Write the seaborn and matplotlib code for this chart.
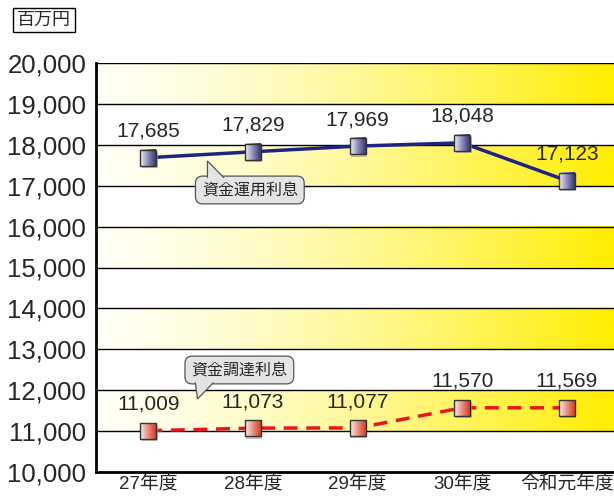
import numpy as np
import pandas as pd
import matplotlib
matplotlib.use("Agg")
import matplotlib.pyplot as plt
from matplotlib.patches import Polygon, Rectangle
import seaborn as sns

# データ
years = ["27年度", "28年度", "29年度", "30年度", "令和元年度"]
unyo = [17685, 17829, 17969, 18048, 17123]     # 資金運用利息
chotatsu = [11009, 11073, 11077, 11570, 11569]  # 資金調達利息
y_ticks = list(range(10000, 20001, 1000))

sns.set_style("white")
plt.rcParams['font.family'] = ['Liberation Sans', 'Noto Sans CJK JP', 'DejaVu Sans']

df = pd.DataFrame({"x": range(len(years)), "unyo": unyo, "chotatsu": chotatsu})

fig = plt.figure(figsize=(6.14, 4.97), dpi=100)
ax = fig.add_axes([96 / 614, 25 / 497, 1 - 96 / 614, 409 / 497])

xmin, xmax = -0.5, 4.45
ax.set_xlim(xmin, xmax)
ax.set_ylim(10000, 20000)

# 背景の黄色グラデーション帯
t = np.linspace(0, 1, 256) ** 1.4
grad = np.zeros((1, 256, 3))
grad[0, :, 0] = 1.0
grad[0, :, 1] = 1.0 - t * (1.0 - 0.93)
grad[0, :, 2] = 0.96 * (1 - t)
for lo in range(11000, 20000, 2000):
    ax.imshow(grad, extent=[xmin, xmax, lo, lo + 1000], aspect="auto", zorder=0)

for yv in y_ticks[1:]:
    ax.axhline(yv, color="black", lw=1.0, zorder=1)

sns.lineplot(data=df, x="x", y="unyo", ax=ax, color="#1E2385", lw=2.5, zorder=3)
sns.lineplot(data=df, x="x", y="chotatsu", ax=ax, color="#E8141E", lw=2.5,
             linestyle=(0, (4, 2.5)), zorder=3)

# グラデーション付き四角マーカー
def grad_marker(x, y, c_right):
    hx = 8 / 104.7
    hy = 8 / 40.9 * 1000
    s = np.linspace(0, 1, 64) ** 0.9
    c0 = np.array([0.97, 0.97, 0.97])
    c1 = np.array(matplotlib.colors.to_rgb(c_right))
    img = (c0[None, :] * (1 - s[:, None]) + c1[None, :] * s[:, None])[None, :, :]
    ax.add_patch(Rectangle((x - hx + 0.012, y - hy - 60), 2 * hx, 2 * hy, fc="#999999",
                           ec="none", alpha=0.6, zorder=3.5))
    ax.imshow(img, extent=[x - hx, x + hx, y - hy, y + hy], aspect="auto", zorder=4)
    ax.add_patch(Rectangle((x - hx, y - hy), 2 * hx, 2 * hy, fc="none", ec="#333333",
                           lw=1, zorder=4.1))

for i in range(len(years)):
    grad_marker(i, unyo[i], "#34347E")
    grad_marker(i, chotatsu[i], "#DC3A1E")
    ax.annotate(f"{unyo[i]:,}", (i, unyo[i]), xytext=(0, 19), textcoords="offset points",
                ha="center", va="center", fontsize=15, zorder=5)
    ax.annotate(f"{chotatsu[i]:,}", (i, chotatsu[i]), xytext=(0, 19), textcoords="offset points",
                ha="center", va="center", fontsize=15, zorder=5)

# 吹き出し
def callout(text, bx, by, tip, base_l, base_r):
    ax.text(bx, by, text, ha="center", va="center", fontsize=11.5, zorder=6,
            bbox=dict(boxstyle="round,pad=0.4,rounding_size=0.45", fc="#E4E4E4",
                      ec="#555555", lw=0.9))
    ax.add_patch(Polygon([tip, base_l, base_r], closed=True, fc="#E4E4E4", ec="none", zorder=6.5))
    ax.plot([base_l[0], tip[0], base_r[0]], [base_l[1], tip[1], base_r[1]],
            color="#555555", lw=0.9, zorder=6.6, solid_joinstyle="miter")

callout("資金運用利息", 0.97, 16895, (0.565, 17604), (0.565, 17200), (0.72, 17200))
callout("資金調達利息", 0.87, 12494, (0.47, 11785), (0.45, 12180), (0.62, 12180))

ax.set_yticks(y_ticks)
ax.set_yticklabels([f"{v:,}" for v in y_ticks], fontsize=18.5)
ax.set_xticks(range(len(years)))
ax.set_xticklabels(years, fontsize=13.5)
ax.set_xticks([0.5, 1.5, 2.5, 3.5], minor=True)
ax.tick_params(axis="x", which="major", length=0, pad=3)
ax.tick_params(axis="x", which="minor", direction="in", length=7, width=1.5, color="black")
ax.tick_params(axis="y", length=0, pad=7)
ax.set_xlabel("")
ax.set_ylabel("")

for s in ["top", "right"]:
    ax.spines[s].set_visible(False)
for s in ["left", "bottom"]:
    ax.spines[s].set_color("black")
    ax.spines[s].set_linewidth(2)

fig.text(44 / 614, 1 - 20 / 497, "百万円", ha="center", va="center", fontsize=13,
         bbox=dict(boxstyle="square,pad=0.22", fc="white", ec="black", lw=1))

fig.savefig("out.png", dpi=100)
